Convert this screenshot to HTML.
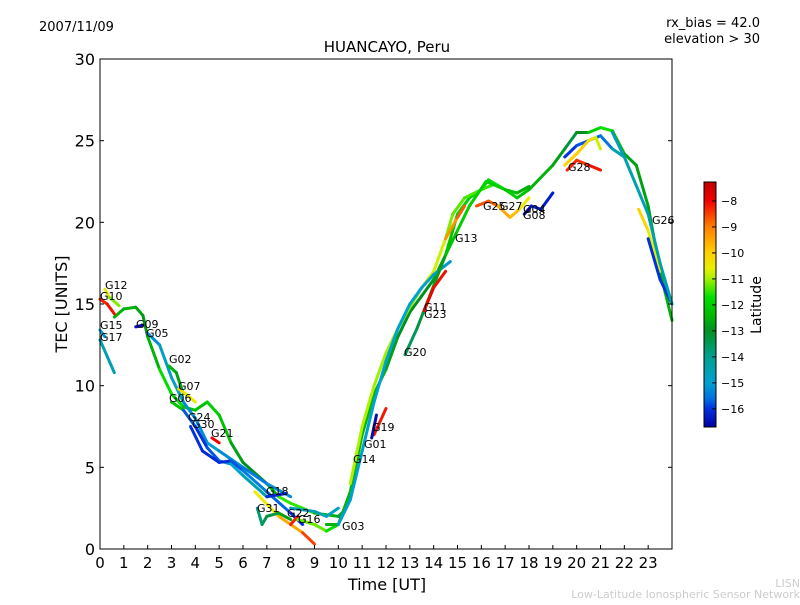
<!DOCTYPE html>
<html><head><meta charset="utf-8"><style>
body{margin:0;background:#fff;}
svg text{font-family:"DejaVu Sans","Liberation Sans",sans-serif;}
</style></head><body>
<svg id="chart" width="800" height="600" viewBox="0 0 800 600">
<rect width="800" height="600" fill="#fff"/>
<text x="39" y="31" font-size="13">2007/11/09</text>
<text x="760" y="27" font-size="13" text-anchor="end">rx_bias = 42.0</text>
<text x="760" y="43" font-size="13" text-anchor="end">elevation &gt; 30</text>
<text x="387" y="52" font-size="15" text-anchor="middle">HUANCAYO, Peru</text>
<g id="plot"></g>
<rect x="100" y="59" width="572" height="490" fill="none" stroke="#000" stroke-width="1"/>
<g id="xticks"></g>
<g id="yticks"></g>
<text x="387" y="590" font-size="16" text-anchor="middle">Time [UT]</text>
<text x="0" y="0" font-size="16" text-anchor="middle" transform="translate(67,304) rotate(-90)">TEC [UNITS]</text>
<defs><linearGradient id="cmap" x1="0" y1="1" x2="0" y2="0"></linearGradient></defs>
<rect x="704" y="182" width="12" height="245" fill="url(#cmap)" stroke="#000" stroke-width="1"/>
<g id="cbticks"></g>
<text x="0" y="0" font-size="14" text-anchor="middle" transform="translate(761,305) rotate(-90)">Latitude</text>
<text x="800" y="587" font-size="11" fill="#ccc" text-anchor="end">LISN</text>
<text x="800" y="598" font-size="11" fill="#ccc" text-anchor="end">Low-Latitude Ionospheric Sensor Network</text>
</svg>
<script>
const xTicks=[0,1,2,3,4,5,6,7,8,9,10,11,12,13,14,15,16,17,18,19,20,21,22,23];
const yTicks=[0,5,10,15,20,25,30];
const cbTicks=[-8,-9,-10,-11,-12,-13,-14,-15,-16];
const traceNames=["A","G09","G05","G02","G07","G06","G06b","G17","G15","G10","G12","BLUE1","G21","G31","G22","G16","G18","TEAL","R1","R2","R3","G20","G19","G19b","G11","G13","G25","G27","G04","G28","UPB","ORA","G26","G26b","EVE"];
const traceTimes=[
[0.6,1,1.5,1.8,2,2.5,3,3.5,4,4.5,5,5.5,6,7,7.5,8,9,10,10.3],
[1.5,1.8],[2,2.5,3,3.5,4,4.5,5,6,7,8],[2.9,3.2,3.5],[3.3,3.6,4],
[3,3.5,4,4.5,5,5.5,6,7],[6.5,7.5,8.5,9],[0,0.3,0.6],[0,0.2],[0,0.3,0.6],[0.2,0.4,0.8],
[3.8,4.3,5,5.5,6,7,8,8.5],[4.7,5],[6.6,6.8,7,7.5,8],[8,8.3],[8.3,9,9.5,10],[7,7.8],[8,9,9.5,10],
[9.5,10,10.5,11,11.5,12,12.5,13,13.5,14,14.5,15,15.5,16,16.3,17,17.5,18,19,19.5,20,20.5,21,21.5,22,22.5,23,23.5,24],
[10.5,11,11.5,12,12.5,13,13.5,14,14.5,14.8,15.3,16,16.5],
[10,10.5,11,11.5,12,12.5,13,13.5,14,14.7],
[12.8,13.3,13.7,14.5,15,15.5,16.2,17,17.5,18],
[11.5,12],[11.4,11.6],[13.6,14,14.5],[14.5,15,15.3],[15.8,16.3,16.7],[16.7,17.2,17.6,18],
[17.8,18.1,18.5,19],[19.6,20,20.5,21],[19.5,20,20.5,21,21.5,22],[19.5,20,20.5,20.8,21],
[22.6,23,23.5],[23,23.5,24],[21.5,22,23,23.5,24]];
const traceTec=[
[14.2,14.7,14.8,14.3,13,11,9.5,8.7,8.5,9,8.2,6.5,5.3,4,3.2,2.8,2.2,2,2.4],
[13.6,13.7],[13.2,12.5,10.5,9,8,6.5,6,5,4,3.2],[11.2,10.8,9.5],[9.8,9.5,9],
[9,8.5,7.5,6.2,5.4,5.2,4.5,3.2],[3.5,2,1,0.3],[12.8,11.8,10.8],[13.4,13],[15.3,15,14.4],[15.9,15.4,14.9],
[7.5,6,5.3,5.4,4.8,3.5,2.2,1.5],[6.8,6.5],[2.5,1.5,2,2.2,1.8],[1.5,2],[1.8,1.5,1.1,1.5],[3.2,3.4],[2.5,2.3,2,2.5],
[1.5,1.5,3.5,7,9.5,11,13,14.5,15.5,16.5,18,20.5,21.5,22,22.6,22,21.5,22,23.5,24.5,25.5,25.5,25.8,25.6,24.2,23.5,21,17,14],
[4,7.5,10,12,13.5,14.8,16,17,19,20.5,21.5,22,22.3],
[1.5,3,6,9,11.5,13.5,15,16,16.8,17.6],
[11.9,13.5,15,18,19.5,21,22.5,22,21.8,22.2],
[7,8.6],[6.8,8.2],[14.6,16,17],[19,20.3,21],[21,21.3,21],[21,20.3,20.8,21.5],
[20.5,21,20.8,21.8],[23.2,23.8,23.5,23.2],[24,24.7,25,25.3,24.5,24],[23.5,24.2,25,25.2,24.5],
[20.8,19.5,17],[19,16.5,15],[25.5,24,20.5,17.5,15]];
const traceLat=[
[-12.5,-12.5,-12.5,-12.8,-13,-12,-11.5,-12,-12.5,-12,-12,-12.5,-13,-13,-12,-11,-12,-13,-14],
[-16.5,-16.5],[-15.5,-15,-14.5,-15,-15.5,-15,-15,-15.5,-15.5,-15],[-12.5,-12.5,-13],[-10.5,-10,-11],
[-9,-15.5,-16,-16,-15.5,-15,-15,-14],[-11,-10,-9,-8],[-14.5,-14.5,-14.5],[-15,-15],[-8.3,-8.3,-8],[-10.2,-10.8,-11.5],
[-16,-16,-16.2,-16,-15.5,-15.3,-16,-16.2],[-8,-8],[-14,-13.5,-13.5,-13,-12.5],[-8,-8.5],[-11.5,-11,-11.5,-12],[-16,-16.2],[-14.8,-14.5,-14.5,-15],
[-12.5,-12.5,-12.5,-12.3,-12.5,-12.5,-13,-13,-13,-13,-12.5,-12,-12,-12,-11.5,-12,-12,-12.5,-12.5,-13,-13.5,-12.5,-11.5,-11.8,-13,-12.5,-13,-12.5,-12.5],
[-11,-10.8,-11,-11,-11,-11.2,-11,-10.5,-11,-11.3,-11.3,-11.5,-11.5],
[-15,-15,-15,-15,-15,-15,-15,-15,-15,-15.2],
[-13.5,-13.5,-13,-12.5,-12,-12,-12,-12,-12.5,-12.5],
[-8.2,-8.2],[-16.5,-16.5],[-8,-8,-8.2],[-9.5,-9,-8.5],[-8.2,-9,-8.5],[-9.5,-9.5,-10,-11],
[-16.5,-16.5,-16,-16.5],[-8,-8.5,-8.3,-8],[-16,-16,-15.5,-16,-15,-14],[-10,-10,-10,-10.5,-11],
[-9.8,-10.3,-10.8],[-16,-16,-16],[-14.5,-14.5,-14.5,-14.3,-14.5]];
const labels=[["G12",105,289],["G10",100,300],["G15",100,329],["G17",100,341],["G09",136,328],["G05",146,337],["G02",169,363],["G07",178,390],["G06",169,402],["G24",188,421],["G30",192,428],["G21",211,437],["G18",266,495],["G31",257,512],["G22",287,517],["G16",298,523],["G03",342,530],["G14",353,463],["G01",364,448],["G19",372,431],["G20",404,356],["G11",424,311],["G23",424,318],["G13",455,242],["G25",483,210],["G27",500,210],["G04",523,213],["G08",523,219],["G28",568,171],["G26",652,224]];

const px=t=>100+t*572/24, py=v=>549-v*490/30;
const latMin=-16.7, latMax=-7.27;
const cmapStops=[[-16.7,[0,0,160]],[-16,[0,48,224]],[-15.6,[0,112,224]],[-15,[0,160,208]],[-14,[0,160,144]],[-13,[0,144,32]],[-12.3,[0,192,0]],[-11.7,[0,224,0]],[-11,[160,240,0]],[-10.6,[232,240,0]],[-10,[255,208,0]],[-9,[255,128,0]],[-8,[240,0,0]],[-7.27,[192,0,0]]];
function cmap(l){
 if(l<=cmapStops[0][0]) return `rgb(${cmapStops[0][1]})`;
 for(let i=0;i<cmapStops.length-1;i++){
  const a=cmapStops[i],b=cmapStops[i+1];
  if(l<=b[0]){const f=(l-a[0])/(b[0]-a[0]);
   return `rgb(${a[1].map((c,k)=>Math.round(c+(b[1][k]-c)*f)).join(',')})`;}
 }
 return `rgb(${cmapStops[cmapStops.length-1][1]})`;
}
const NS="http://www.w3.org/2000/svg";
const grad=document.getElementById('cmap');
cmapStops.forEach(s=>{const st=document.createElementNS(NS,'stop');
 st.setAttribute('offset',(s[0]-latMin)/(latMax-latMin));st.setAttribute('stop-color',`rgb(${s[1]})`);grad.appendChild(st);});
const plot=document.getElementById('plot');
traceTimes.forEach((ts,i)=>{
 const g=document.createElementNS(NS,'g');
 
 
 for(let k=0;k<ts.length-1;k++){
  const ln=document.createElementNS(NS,'line');
  ln.setAttribute('x1',px(ts[k]));ln.setAttribute('y1',py(traceTec[i][k]));
  ln.setAttribute('x2',px(ts[k+1]));ln.setAttribute('y2',py(traceTec[i][k+1]));
  ln.setAttribute('stroke',cmap((traceLat[i][k]+traceLat[i][k+1])/2));
  ln.setAttribute('stroke-width','3');ln.setAttribute('stroke-linecap','round');
  
  
  g.appendChild(ln);
 }
 plot.appendChild(g);
});
labels.forEach(l=>{
 const t=document.createElementNS(NS,'text');
 t.setAttribute('x',l[1]);t.setAttribute('y',l[2]);t.setAttribute('font-size','11');
 t.textContent=l[0];
 
 
 plot.appendChild(t);
});
const xg=document.getElementById('xticks');
xTicks.forEach(v=>{
 const x=px(v);
 const tk=document.createElementNS(NS,'line');
 tk.setAttribute('x1',x);tk.setAttribute('x2',x);tk.setAttribute('y1',549);tk.setAttribute('y2',545);tk.setAttribute('stroke','#000');
 
 
 xg.appendChild(tk);
 const t=document.createElementNS(NS,'text');
 t.setAttribute('x',x);t.setAttribute('y',568);t.setAttribute('font-size','15');t.setAttribute('text-anchor','middle');
 t.textContent=v;
 
 
 xg.appendChild(t);
});
const yg=document.getElementById('yticks');
yTicks.forEach(v=>{
 const y=py(v);
 [[100,104],[672,668]].forEach(p=>{
  const tk=document.createElementNS(NS,'line');
  tk.setAttribute('x1',p[0]);tk.setAttribute('x2',p[1]);tk.setAttribute('y1',y);tk.setAttribute('y2',y);tk.setAttribute('stroke','#000');
  
  
  yg.appendChild(tk);
 });
 const t=document.createElementNS(NS,'text');
 t.setAttribute('x',95);t.setAttribute('y',y+6);t.setAttribute('font-size','16');t.setAttribute('text-anchor','end');
 t.textContent=v;
 
 
 yg.appendChild(t);
});
const cg=document.getElementById('cbticks');
cbTicks.forEach(v=>{
 const y=427-(v-latMin)/(latMax-latMin)*245;
 const tk=document.createElementNS(NS,'line');
 tk.setAttribute('x1',712);tk.setAttribute('x2',716);tk.setAttribute('y1',y);tk.setAttribute('y2',y);tk.setAttribute('stroke','#000');
 
 
 cg.appendChild(tk);
 const t=document.createElementNS(NS,'text');
 t.setAttribute('x',721);t.setAttribute('y',y+4);t.setAttribute('font-size','11');
 t.textContent='\u2212'+Math.abs(v);
 
 
 cg.appendChild(t);
});
</script>
</body></html>
